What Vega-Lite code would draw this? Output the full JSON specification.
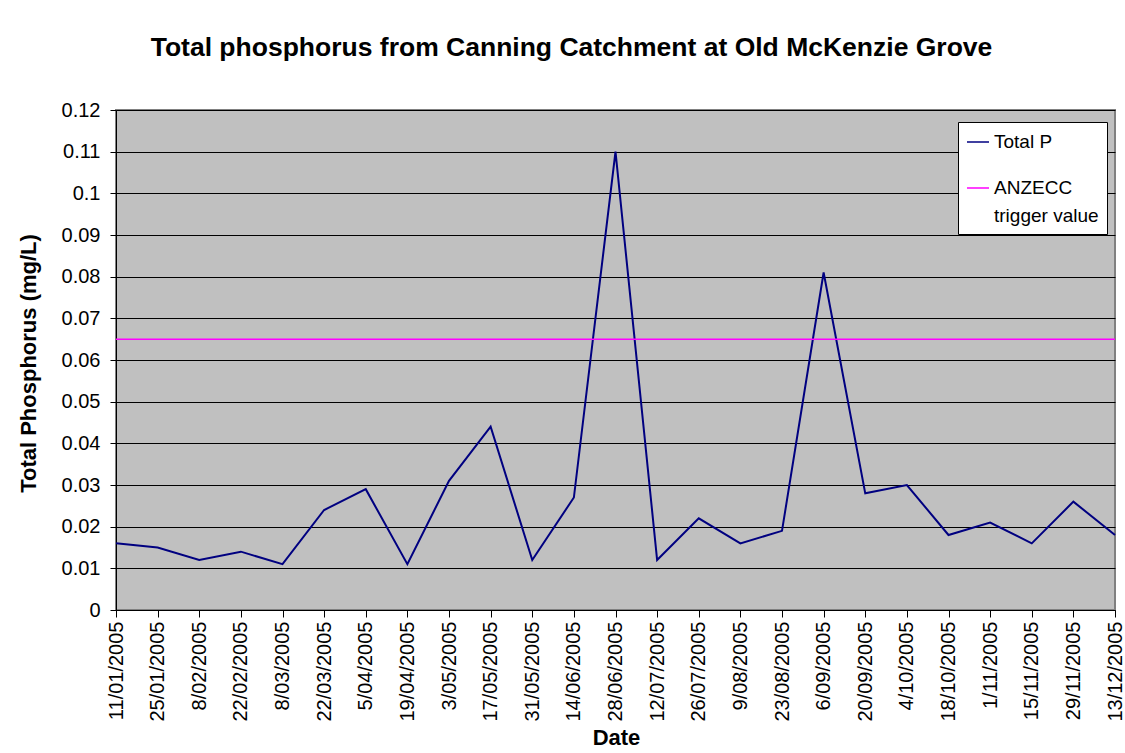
{
  "$schema": "https://vega.github.io/schema/vega-lite/v6.json",
  "width": 999,
  "height": 500,
  "autosize": {"type": "none"},
  "padding": {"left": 116, "top": 110, "right": 10, "bottom": 143},
  "background": "white",
  "title": {
    "text": "Total phosphorus from Canning Catchment at Old McKenzie Grove",
    "font": "Liberation Sans",
    "fontSize": 26.5,
    "fontWeight": "bold",
    "color": "black",
    "anchor": "middle",
    "dx": -44,
    "baseline": "alphabetic",
    "offset": 18
  },
  "config": {
    "view": {"fill": "#C0C0C0", "stroke": "#808080", "strokeWidth": 2},
    "style": {"guide-label": {"lineHeight": 28}},
    "axis": {
      "labelFont": "Liberation Sans",
      "titleFont": "Liberation Sans",
      "labelColor": "black",
      "titleColor": "black",
      "domainColor": "black",
      "tickColor": "black",
      "labelFontSize": 20,
      "titleFontSize": 22,
      "titleFontWeight": "bold"
    },
    "legend": {
      "labelFont": "Liberation Sans",
      "labelFontSize": 19,
      "labelColor": "black"
    }
  },
  "datasets": {
    "phos": [
      {"date": "11/01/2005", "p": 0.016},
      {"date": "25/01/2005", "p": 0.015},
      {"date": "8/02/2005", "p": 0.012},
      {"date": "22/02/2005", "p": 0.014},
      {"date": "8/03/2005", "p": 0.011},
      {"date": "22/03/2005", "p": 0.024},
      {"date": "5/04/2005", "p": 0.029},
      {"date": "19/04/2005", "p": 0.011},
      {"date": "3/05/2005", "p": 0.031},
      {"date": "17/05/2005", "p": 0.044},
      {"date": "31/05/2005", "p": 0.012},
      {"date": "14/06/2005", "p": 0.027},
      {"date": "28/06/2005", "p": 0.11},
      {"date": "12/07/2005", "p": 0.012},
      {"date": "26/07/2005", "p": 0.022},
      {"date": "9/08/2005", "p": 0.016},
      {"date": "23/08/2005", "p": 0.019},
      {"date": "6/09/2005", "p": 0.081},
      {"date": "20/09/2005", "p": 0.028},
      {"date": "4/10/2005", "p": 0.030},
      {"date": "18/10/2005", "p": 0.018},
      {"date": "1/11/2005", "p": 0.021},
      {"date": "15/11/2005", "p": 0.016},
      {"date": "29/11/2005", "p": 0.026},
      {"date": "13/12/2005", "p": 0.018}
    ],
    "trigger": [
      {"series": "ANZECC trigger value", "value": 0.065}
    ]
  },
  "layer": [
    {
      "data": {"name": "phos"},
      "mark": {"type": "line", "strokeWidth": 2, "clip": false},
      "encoding": {
        "x": {
          "field": "date",
          "type": "ordinal",
          "sort": null,
          "scale": {"type": "point", "padding": 0},
          "axis": {
            "title": "Date",
            "labelAngle": -90,
            "labelPadding": 4,
            "tickSize": 7,
            "domainWidth": 1,
            "grid": false,
            "titleX": 500,
            "titleY": 127,
            "titleBaseline": "middle",
            "titleAlign": "center"
          }
        },
        "y": {
          "field": "p",
          "type": "quantitative",
          "scale": {"domain": [0, 0.12], "nice": false},
          "axis": {
            "title": "Total Phosphorus (mg/L)",
            "values": [0, 0.01, 0.02, 0.03, 0.04, 0.05, 0.06, 0.07, 0.08, 0.09, 0.1, 0.11, 0.12],
            "format": "~g",
            "tickSize": 6,
            "labelPadding": 10,
            "grid": true,
            "gridColor": "black",
            "gridOpacity": 1,
            "gridWidth": 1,
            "titleX": -88,
            "titleY": 253,
            "titleAngle": -90,
            "titleBaseline": "middle",
            "titleAlign": "center"
          }
        },
        "color": {
          "datum": "Total P",
          "type": "nominal",
          "scale": {"domain": ["Total P", "ANZECC trigger value"], "range": ["#000080", "#FF00FF"]},
          "legend": {
            "title": null,
            "orient": "none",
            "legendX": 842,
            "legendY": 12,
            "fillColor": "white",
            "strokeColor": "black",
            "padding": 8,
            "symbolType": "stroke",
            "symbolSize": 484,
            "symbolStrokeWidth": 1.5,
            "rowPadding": 24,
            "labelOffset": 4,
            "labelLimit": 300,
            "labelExpr": "datum.label == 'ANZECC trigger value' ? ['ANZECC', 'trigger value'] : datum.label"
          }
        }
      }
    },
    {
      "data": {"name": "trigger"},
      "mark": {"type": "rule", "strokeWidth": 1.5},
      "encoding": {
        "y": {"field": "value", "type": "quantitative"},
        "color": {"datum": "ANZECC trigger value", "type": "nominal"}
      }
    }
  ]
}
